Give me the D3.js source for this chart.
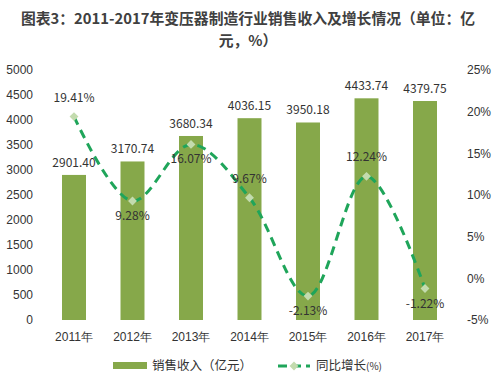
<!DOCTYPE html>
<html>
<head>
<meta charset="utf-8">
<script src="https://cdn.jsdelivr.net/npm/d3@7"></script>
<style>
  body { margin: 0; background: #fff; }
  svg { font-family: "Microsoft YaHei", "Noto Sans CJK SC", sans-serif; }
  .tick text { fill: #333; font-size: 12px; }
</style>
</head>
<body>
<div id="chart"></div>
<script>
// data
const years = ["2011年", "2012年", "2013年", "2014年", "2015年", "2016年", "2017年"];
const sales = [2901.40, 3170.74, 3680.34, 4036.15, 3950.18, 4433.74, 4379.75];
const growth = [19.41, 9.28, 16.07, 9.67, -2.13, 12.24, -1.22];
const leftTicks = [0, 500, 1000, 1500, 2000, 2500, 3000, 3500, 4000, 4500, 5000];
const rightTicks = [-5, 0, 5, 10, 15, 20, 25];
// label above (-1) or below (1) the point
const growthLabelSide = [-1, 1, 1, -1, 1, -1, 1];

const W = 496, H = 388;
const plot = {left: 44.75, right: 454.25, top: 70, bottom: 320};

const svg = d3.select("#chart").append("svg")
    .attr("width", W)
    .attr("height", H);

// title
svg.append("text")
    .attr("x", 248).attr("y", 24)
    .attr("text-anchor", "middle")
    .attr("font-size", 14.8).attr("font-weight", "bold").attr("fill", "#404040")
    .text("图表3：2011-2017年变压器制造行业销售收入及增长情况（单位：亿");
svg.append("text")
    .attr("x", 248).attr("y", 46)
    .attr("text-anchor", "middle")
    .attr("font-size", 14.8).attr("font-weight", "bold").attr("fill", "#404040")
    .text("元，%）");

// scales
const x = d3.scaleBand()
    .domain(years)
    .range([plot.left, plot.right])
    .paddingInner(0.59)
    .paddingOuter(0.295);

const y = d3.scaleLinear()
    .domain([0, 5000])
    .range([plot.bottom, plot.top]);

const y2 = d3.scaleLinear()
    .domain([-5, 25])
    .range([plot.bottom, plot.top]);

// axes (no lines)
const yAxis = d3.axisLeft(y).tickValues(leftTicks).tickSize(0).tickPadding(0)
    .tickFormat(d3.format("d"));
svg.append("g")
    .attr("transform", "translate(33,0)")
    .call(yAxis)
    .call(g => g.select(".domain").remove());

const y2Axis = d3.axisRight(y2).tickValues(rightTicks).tickSize(0).tickPadding(0)
    .tickFormat(d => d + "%");
svg.append("g")
    .attr("transform", "translate(467,0)")
    .call(y2Axis)
    .call(g => g.select(".domain").remove());

const xAxis = d3.axisBottom(x).tickSize(0).tickPadding(12);
svg.append("g")
    .attr("transform", `translate(0,${plot.bottom})`)
    .call(xAxis)
    .call(g => g.select(".domain").remove());

// bars
const barColor = "#86a84a";
svg.selectAll(".bar")
    .data(years)
    .enter().append("rect")
    .attr("class", "bar")
    .attr("x", d => x(d))
    .attr("y", (d, i) => y(sales[i]))
    .attr("width", x.bandwidth())
    .attr("height", (d, i) => y(0) - y(sales[i]))
    .attr("fill", barColor);

svg.selectAll(".bar-label")
    .data(years)
    .enter().append("text")
    .attr("class", "bar-label")
    .attr("x", d => x(d) + x.bandwidth() / 2)
    .attr("y", (d, i) => y(sales[i]) - 8)
    .attr("text-anchor", "middle")
    .attr("font-size", 12).attr("fill", "#333")
    .text((d, i) => sales[i].toFixed(2));

// growth line
const lineColor = "#1fa55a";
const pts = years.map((d, i) => [x(d) + x.bandwidth() / 2, y2(growth[i])]);

svg.append("path")
    .datum(pts)
    .attr("d", d3.line().curve(d3.curveCatmullRom.alpha(0.5)))
    .attr("fill", "none")
    .attr("stroke", lineColor)
    .attr("stroke-width", 3)
    .attr("stroke-dasharray", "9,6");

svg.selectAll(".marker")
    .data(pts)
    .enter().append("path")
    .attr("class", "marker")
    .attr("transform", d => `translate(${d[0]},${d[1]})`)
    .attr("d", d3.symbol().type(d3.symbolDiamond2).size(50))
    .attr("fill", "#c3dbae");

svg.selectAll(".growth-label")
    .data(pts)
    .enter().append("text")
    .attr("class", "growth-label")
    .attr("x", d => d[0])
    .attr("y", (d, i) => growthLabelSide[i] < 0 ? d[1] - 15 : d[1] + 19)
    .attr("text-anchor", "middle")
    .attr("font-size", 12).attr("fill", "#333")
    .text((d, i) => growth[i].toFixed(2) + "%");

// legend
const legend = svg.append("g");
legend.append("rect")
    .attr("x", 113).attr("y", 362)
    .attr("width", 34).attr("height", 7)
    .attr("fill", barColor);
legend.append("text")
    .attr("x", 152).attr("y", 370)
    .attr("font-size", 12.5).attr("fill", "#333")
    .text("销售收入（亿元）");

legend.append("line")
    .attr("x1", 278).attr("x2", 310)
    .attr("y1", 366).attr("y2", 366)
    .attr("stroke", lineColor)
    .attr("stroke-width", 3)
    .attr("stroke-dasharray", "9,5");
legend.append("path")
    .attr("transform", "translate(294,366)")
    .attr("d", d3.symbol().type(d3.symbolDiamond2).size(50))
    .attr("fill", "#c3dbae");
legend.append("text")
    .attr("x", 316).attr("y", 370)
    .attr("font-size", 12.5).attr("fill", "#333")
    .text("同比增长")
    .append("tspan")
    .attr("font-size", 10)
    .text("(%)");
</script>
</body>
</html>
